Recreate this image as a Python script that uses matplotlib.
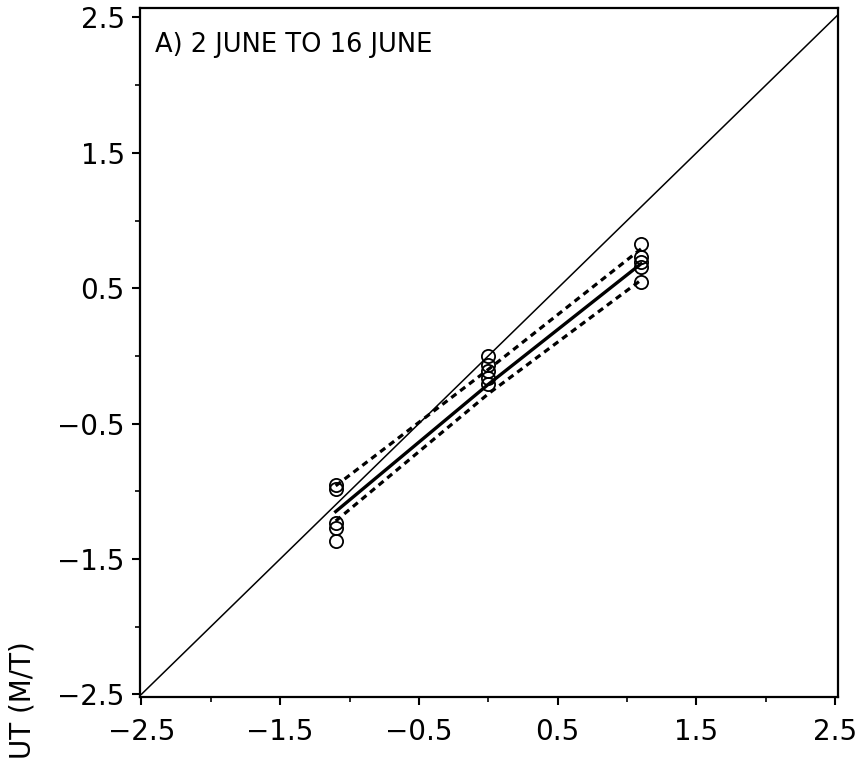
import matplotlib.pyplot as plt
import numpy as np

# observed values at three points along x
x_groups = [-1.1, 0.0, 1.1]
y_group1 = [-0.955, -0.985, -1.236, -1.275, -1.367]
y_group2 = [0.0, -0.065, -0.115, -0.16, -0.21]
y_group3 = [0.826, 0.728, 0.69, 0.654, 0.543]

# fitted line and its bounds
fit_mid = [-1.15, -0.21, 0.68]
fit_upper = [-0.96, -0.10, 0.79]
fit_lower = [-1.22, -0.28, 0.56]

ticks = [-2.5, -1.5, -0.5, 0.5, 1.5, 2.5]
minor = [-2.0, -1.0, 0.0, 1.0, 2.0]

fig = plt.figure(figsize=(8.66, 7.61), dpi=100)
ax = fig.add_axes([0.1617, 0.0841, 0.8060, 0.9054])

ax.plot([-2.5, 2.6], [-2.5, 2.6], color='black', lw=1.1)

ax.plot(x_groups, fit_mid, color='black', lw=2.4)
ax.plot(x_groups, fit_upper, color='black', lw=2.3, linestyle=(0, (2.0, 1.5)))
ax.plot(x_groups, fit_lower, color='black', lw=2.3, linestyle=(0, (2.0, 1.5)))

for xv, ys in zip(x_groups, [y_group1, y_group2, y_group3]):
    ax.plot([xv] * len(ys), ys, linestyle='none', marker='o', ms=9.5,
            mfc='none', mec='black', mew=1.3)

ax.set_xlim(-2.51, 2.52)
ax.set_ylim(-2.52, 2.57)
ax.set_xticks(ticks)
ax.set_yticks(ticks)
ax.set_xticks(minor, minor=True)
ax.set_yticks(minor, minor=True)
ax.set_xticklabels([f"{t:.1f}".replace('-', '\u2212') for t in ticks])
ax.set_yticklabels([f"{t:.1f}".replace('-', '\u2212') for t in ticks])
ax.tick_params(which='major', direction='out', length=6, width=1.5, labelsize=20)
ax.tick_params(which='minor', direction='out', length=3.5, width=1.2)
ax.tick_params(axis='x', pad=9)
ax.tick_params(axis='y', pad=5)
for s in ax.spines.values():
    s.set_linewidth(1.6)

ax.text(0.021, 0.946, "A) 2 JUNE TO 16 JUNE", transform=ax.transAxes,
        fontsize=18.5, ha='left', va='center')

# axis title, only its end shows at the bottom-left corner
fig.text(0.026, 0.002, "UT (M/T)", rotation=90, fontsize=20,
         ha='center', va='bottom')

fig.savefig('out.png', dpi=100)
